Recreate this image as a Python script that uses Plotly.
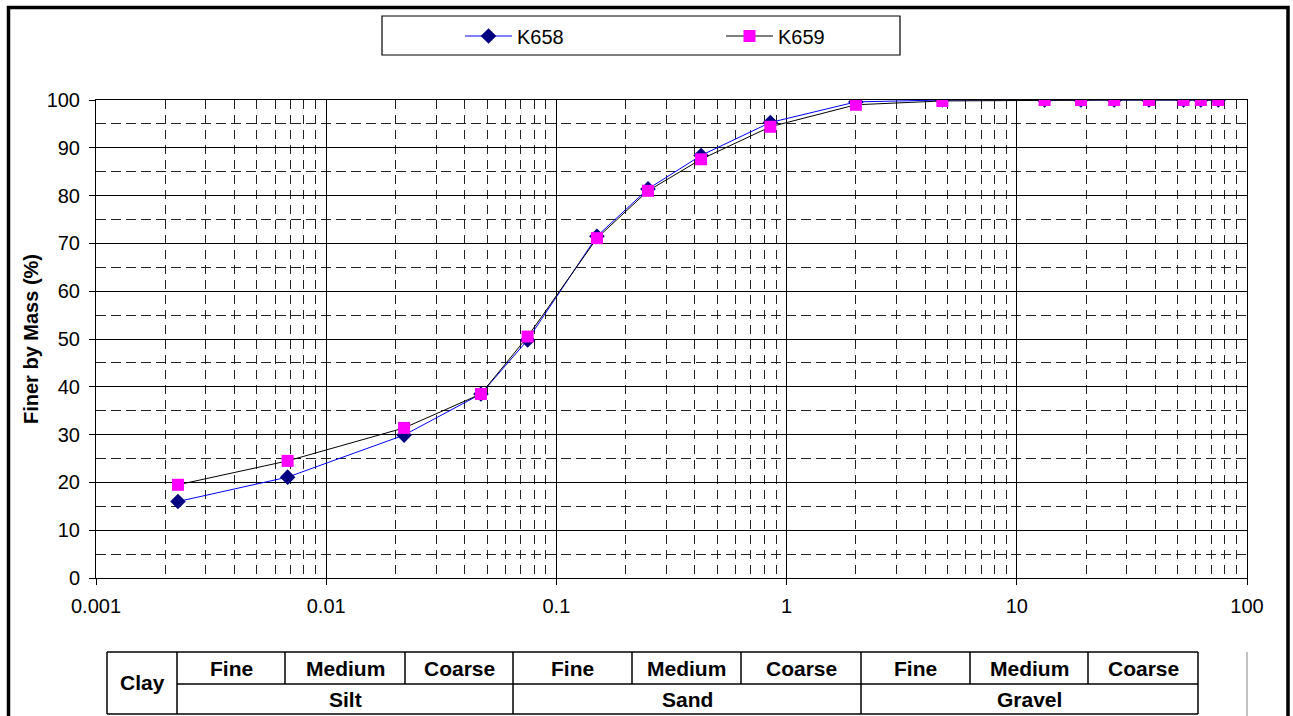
import plotly.graph_objects as go

# Sieve / hydrometer particle sizes (mm)
size_mm = [0.00227, 0.0068, 0.0218, 0.047, 0.075, 0.15, 0.25, 0.425, 0.85,
           2.0, 4.75, 13.2, 19.0, 26.5, 37.5, 53.0, 63.0, 75.0]

# Percent finer by mass for each sample
k658 = [16.0, 21.1, 29.9, 38.5, 49.8, 71.5, 81.4, 88.4, 95.3,
        99.6, 100.0, 100.0, 100.0, 100.0, 100.0, 100.0, 100.0, 100.0]
k659 = [19.5, 24.5, 31.4, 38.5, 50.5, 71.1, 81.0, 87.6, 94.4,
        99.0, 99.8, 100.0, 100.0, 100.0, 100.0, 100.0, 100.0, 100.0]

x_tick_vals = [0.001, 0.01, 0.1, 1, 10, 100]
x_tick_text = ["0.001", "0.01", "0.1", "1", "10", "100"]
y_tick_vals = list(range(0, 101, 10))

# Soil classification strip beneath the chart
class_top = ["Fine", "Medium", "Coarse", "Fine", "Medium", "Coarse",
             "Fine", "Medium", "Coarse"]
class_bottom = ["Silt", "Sand", "Gravel"]
class_first = "Clay"

W, H = 1293, 716
L, R, T, B = 96, 1247, 100, 578          # plot area in pixels


def px(xp):
    return (xp - L) / (R - L)


def py(yp):
    return (B - yp) / (B - T)


fig = go.Figure()
fig.add_trace(go.Scatter(
    x=size_mm, y=k658, name="K658", mode="lines+markers",
    line=dict(color="#0000FF", width=1),
    marker=dict(symbol="diamond", size=12, color="#000080"),
))
fig.add_trace(go.Scatter(
    x=size_mm, y=k659, name="K659", mode="lines+markers",
    line=dict(color="#000000", width=1),
    marker=dict(symbol="square", size=12, color="#FF00FF"),
))

font_main = "Liberation Sans, Arial, sans-serif"

fig.update_layout(
    width=W, height=H,
    margin=dict(l=L, r=W - R, t=T, b=H - B),
    paper_bgcolor="white", plot_bgcolor="white",
    font=dict(family=font_main, size=20, color="black"),
    showlegend=True,
    legend=dict(
        orientation="h", x=px(460), y=py(36), xanchor="left", yanchor="middle",
        entrywidth=199, entrywidthmode="pixels", itemwidth=47,
        font=dict(size=20), bgcolor="rgba(0,0,0,0)", borderwidth=0,
    ),
)

fig.update_xaxes(
    type="log", range=[-3, 2],
    tickvals=x_tick_vals, ticktext=x_tick_text,
    ticks="outside", ticklen=6, tickcolor="black", ticklabelstandoff=4,
    showline=True, linecolor="black", linewidth=1, mirror=True,
    showgrid=True, gridcolor="black", gridwidth=1,
    minor=dict(dtick="D1", showgrid=True, gridcolor="#222",
               griddash="9px,6px", gridwidth=1, ticks=""),
    zeroline=False,
)
fig.update_yaxes(
    range=[0, 100], tickvals=y_tick_vals,
    ticks="outside", ticklen=6, tickcolor="black", ticklabelstandoff=5,
    showline=True, linecolor="black", linewidth=1, mirror=True,
    showgrid=True, gridcolor="black", gridwidth=1,
    minor=dict(dtick=5, showgrid=True, gridcolor="#222",
               griddash="10px,5px", gridwidth=1, ticks=""),
    title=dict(text="<b>Finer by Mass (%)</b>", font=dict(size=20), standoff=2),
    zeroline=False,
)

shapes = []
# outer frame
shapes.append(dict(type="rect", xref="paper", yref="paper",
                   x0=px(8.5), x1=px(1288), y0=py(7.5), y1=py(740),
                   line=dict(color="black", width=3.5)))
# legend box
shapes.append(dict(type="rect", xref="paper", yref="paper",
                   x0=px(382), x1=px(900), y0=py(16), y1=py(55),
                   line=dict(color="black", width=1.2)))

# classification strip geometry
col_edges = [107, 177, 285, 405, 513, 632, 741, 861, 970, 1088, 1198]
row_top, row_mid, row_bot = 652, 684, 714


def seg(x0, y0, x1, y1, color="black", width=1.5):
    shapes.append(dict(type="line", xref="paper", yref="paper",
                       x0=px(x0), x1=px(x1), y0=py(y0), y1=py(y1),
                       line=dict(color=color, width=width)))


seg(col_edges[0], row_top, col_edges[-1], row_top)
seg(col_edges[1], row_mid, col_edges[-1], row_mid)
seg(col_edges[0], row_bot, col_edges[-1], row_bot)
for i, xe in enumerate(col_edges):
    if i in (0, 1, 4, 7, 10):
        seg(xe, row_top, xe, row_bot)
    else:
        seg(xe, row_top, xe, row_mid)
seg(1247, row_top, 1247, 720, color="#888", width=1)

annotations = []
tfont = dict(family=font_main, size=21, color="black")
annotations.append(dict(xref="paper", yref="paper",
                        x=px((col_edges[0] + col_edges[1]) / 2),
                        y=py((row_top + row_bot) / 2),
                        text="<b>%s</b>" % class_first, showarrow=False,
                        font=tfont, xanchor="center", yanchor="middle"))
for i, lab in enumerate(class_top):
    xc = (col_edges[i + 1] + col_edges[i + 2]) / 2
    annotations.append(dict(xref="paper", yref="paper", x=px(xc),
                            y=py((row_top + row_mid) / 2),
                            text="<b>%s</b>" % lab, showarrow=False,
                            font=tfont, xanchor="center", yanchor="middle"))
for j, lab in enumerate(class_bottom):
    xc = (col_edges[1 + 3 * j] + col_edges[4 + 3 * j]) / 2
    annotations.append(dict(xref="paper", yref="paper", x=px(xc),
                            y=py((row_mid + row_bot) / 2),
                            text="<b>%s</b>" % lab, showarrow=False,
                            font=tfont, xanchor="center", yanchor="middle"))

fig.update_layout(shapes=shapes, annotations=annotations)
fig.write_html("out.html")
